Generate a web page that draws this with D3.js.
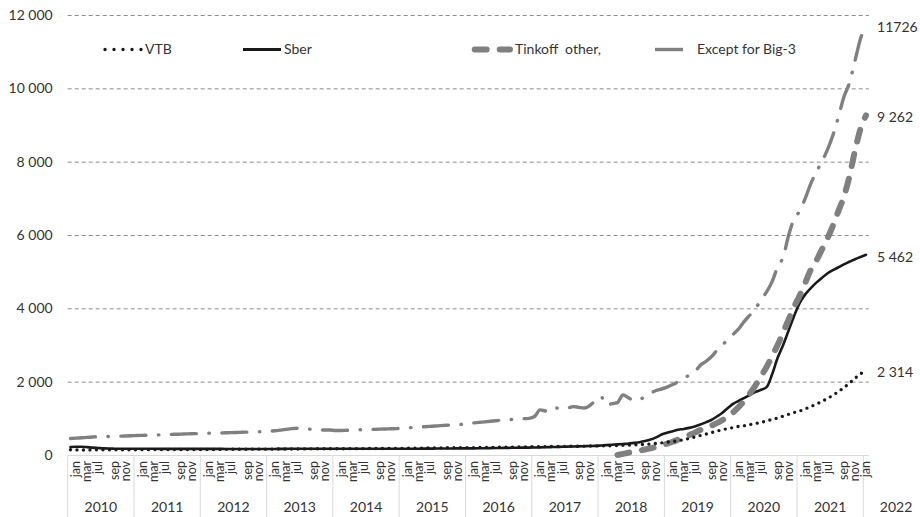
<!DOCTYPE html>
<html><head><meta charset="utf-8">
<script src="https://cdn.jsdelivr.net/npm/d3@7"></script>
<style>
body{margin:0;background:#fff;}
svg text{font-family:Lato,"Noto Sans",sans-serif;fill:#333;}
</style></head><body>
<svg id="c" width="920" height="517"></svg>
<script>
// ---- data ----
const years = [2010,2011,2012,2013,2014,2015,2016,2017,2018,2019,2020,2021,2022];
const monthNames = ["jan","feb","mar","apr","may","jun","jul","aug","sep","oct","nov","dec"];
const lastMonth = "2022-01";
const shownMonthLabels = ["jan","mar","jul","sep","nov"];
const yTicks = [0,2000,4000,6000,8000,10000,12000];
const seriesNames = ["VTB","Sber","Tinkoff  other,","Except for Big-3"];

const vtb = [
 145,140,138,138,140,140,142,142,143,143,145,145,
 145,146,146,147,147,148,148,149,149,150,150,150,
 150,151,152,153,154,155,156,157,158,159,160,160,
 160,161,162,163,164,165,166,167,168,169,170,170,
 170,171,172,173,174,175,176,177,178,179,180,180,
 180,182,184,186,188,190,192,194,196,198,200,200,
 200,202,204,206,208,210,212,214,216,218,220,222,
 224,226,228,230,232,234,236,238,240,242,245,248,
 250,250,255,260,265,270,275,280,290,300,315,330,
 350,370,390,420,450,490,530,570,610,650,690,720,
 750,780,800,830,860,890,930,970,1010,1060,1110,1160,
 1200,1260,1320,1390,1460,1540,1630,1730,1840,1960,2090,2210,
 2314];
const sber = [
 220,225,225,215,200,190,180,175,172,170,170,170,
 170,170,170,170,168,168,168,168,168,168,168,168,
 168,168,168,168,165,165,165,165,165,165,165,165,
 165,165,168,168,170,170,170,170,170,170,170,170,
 170,170,170,170,170,170,170,170,170,170,170,170,
 170,170,172,172,174,174,176,176,178,178,180,180,
 180,182,184,186,188,190,192,194,196,198,200,202,
 205,208,212,216,220,224,228,232,236,240,245,250,
 260,270,280,290,300,310,330,350,380,420,480,560,
 610,650,690,710,740,780,830,890,955,1050,1150,1280,
 1400,1480,1560,1640,1720,1780,1850,2200,2650,3000,3400,3800,
 4150,4380,4550,4700,4830,4950,5040,5120,5200,5270,5340,5400,
 5462];
const tinkoffStart = "2018-04";
const tinkoff = [
 0,30,60,90,120,150,185,220,270,
 310,360,420,480,545,610,680,740,800,870,950,1050,
 1170,1320,1480,1680,1900,2150,2400,2700,3000,3350,3700,4050,
 4350,4700,5050,5300,5600,5900,6250,6650,7050,7600,8300,8900,
 9262];
const exceptBig3 = [
 450,460,470,480,490,500,500,505,510,515,520,525,
 530,535,540,545,550,555,560,565,570,575,580,585,
 590,595,600,600,605,610,615,620,625,630,635,640,
 650,660,680,700,720,730,720,710,700,690,680,680,
 670,670,675,680,685,690,695,700,705,710,715,720,
 730,740,750,760,770,780,790,800,810,820,830,840,
 860,875,890,905,920,935,950,960,970,980,990,1000,
 1050,1230,1200,1180,1280,1260,1280,1320,1300,1280,1350,1480,
 1600,1360,1400,1430,1640,1560,1480,1520,1580,1680,1760,1800,
 1850,1920,2000,2080,2180,2260,2450,2550,2680,2850,3000,3150,
 3300,3450,3650,3820,4000,4230,4450,4730,5130,5400,6000,6450,
 6650,7000,7400,7720,8000,8320,8720,9220,9770,10150,10750,11350,
 11726];
const endLabels = ["2 314","5 462","9 262","11726"];

// ---- categories ----
const months = [];
for (const yr of years) for (const m of monthNames) {
  const key = yr + "-" + String(monthNames.indexOf(m)+1).padStart(2,"0");
  if (key > lastMonth) break;
  months.push({year: yr, month: m, key});
}
const n = months.length;
const idxOf = key => months.findIndex(d => d.key === key);

// ---- layout ----
const svg = d3.select("#c");
const X0 = 67.7, X1 = 868.8, YT = 15, YB = 455;
const x = d3.scaleBand().domain(d3.range(n)).range([X0, X1]).paddingInner(0).paddingOuter(0);
const cx = i => x(i) + x.bandwidth()/2;
const y = d3.scaleLinear().domain([0, 12000]).range([YB, YT]);
const fmt = d3.formatLocale({decimal:".", thousands:" ", grouping:[3], currency:["",""]}).format(",d");

// grid + y labels
const ga = svg.append("g").attr("transform", `translate(${X0},0)`)
  .call(d3.axisLeft(y).tickValues(yTicks).tickSize(-(X1 - X0)).tickPadding(15).tickFormat(fmt));
ga.select(".domain").remove();
ga.selectAll(".tick line")
  .attr("stroke", d => d === 0 ? "#d9d9d9" : "#8c8c8c")
  .attr("stroke-width", 1)
  .attr("stroke-dasharray", d => d === 0 ? null : "4,3");
ga.selectAll(".tick text").attr("font-size", 14).attr("fill", "#333")
  .style("font-family", "Lato, 'Noto Sans', sans-serif");

// year separators and labels
const yearStarts = years.map(yr => months.findIndex(d => d.year === yr));
svg.append("g").selectAll("line").data(yearStarts).join("line")
  .attr("x1", i => x(i)).attr("x2", i => x(i))
  .attr("y1", YB).attr("y2", 517)
  .attr("stroke", "#d9d9d9").attr("stroke-width", 1);
svg.append("g").selectAll("text").data(years).join("text")
  .attr("x", (yr, k) => {
    const s = yearStarts[k];
    const e = k + 1 < years.length ? yearStarts[k+1] : n;
    return e - s > 1 ? (x(s) + x(e - 1) + x.bandwidth())/2 : X1 + 11;
  })
  .attr("text-anchor", (yr, k) => k + 1 < years.length ? "middle" : "start")
  .attr("y", 507).attr("dy", "0.35em").attr("font-size", 14)
  .text(d => d);

// month labels (rotated)
const labelOffset = {jan:1, mar:3, jul:5, sep:8, nov:10};
const monthLabelIdx = [];
yearStarts.forEach((s, k) => {
  const e = k + 1 < years.length ? yearStarts[k+1] : n;
  shownMonthLabels.forEach(m => {
    const i = s + labelOffset[m];
    if (e - s === 1) { if (m === "jan") monthLabelIdx.push({i: s, t: m}); }
    else if (i < e) monthLabelIdx.push({i, t: m});
  });
});
svg.append("g").selectAll("text").data(monthLabelIdx).join("text")
  .attr("transform", d => `translate(${cx(d.i)},461) rotate(-90)`)
  .attr("text-anchor", "end").attr("dy", "0.35em").attr("font-size", 12.5)
  .text(d => d.t);

// series
const line = d3.line().defined(d => d.v != null).x(d => cx(d.i)).y(d => y(d.v)).curve(d3.curveMonotoneX);
const toPts = (arr, start) => arr.map((v, k) => ({i: start + k, v}));
const tStart = idxOf(tinkoffStart);
const series = [
  {pts: toPts(sber, 0), stroke: "#1a1a1a", w: 2.6, dash: null, cap: "round"},
  {pts: toPts(tinkoff, tStart), stroke: "#808080", w: 6, dash: "12,13", cap: "round"},
  {pts: toPts(vtb, 0), stroke: "#1a1a1a", w: 3.4, dash: "0,6.5", cap: "round"},
  {pts: toPts(exceptBig3, 0), stroke: "#808080", w: 3.4, dash: "25,12.5,0.5,12.5", cap: "round"}
];
svg.append("g").selectAll("path").data(series).join("path")
  .attr("d", s => line(s.pts)).attr("fill", "none")
  .attr("stroke", s => s.stroke).attr("stroke-width", s => s.w)
  .attr("stroke-dasharray", s => s.dash).attr("stroke-linecap", s => s.cap)
  .attr("stroke-linejoin", "round");

// end labels
const ends = [vtb, sber, tinkoff, exceptBig3].map(a => a[a.length - 1]);
svg.append("g").selectAll("text").data(ends).join("text")
  .attr("x", cx(n - 1) + 11).attr("y", v => y(v) + 2).attr("dy", "0.35em")
  .attr("font-size", 14).text((v, k) => endLabels[k]);

// legend
const LY = 49.5;
const lg = svg.append("g");
const legendItems = [
  {x1: 105, x2: 141.5, tx: 145, stroke: "#1a1a1a", w: 3.4, dash: "0,9", cap: "round"},
  {x1: 243, x2: 281, tx: 284, stroke: "#1a1a1a", w: 3, dash: null, cap: "butt"},
  {x1: 474.7, x2: 510, tx: 515, stroke: "#808080", w: 6, dash: "12,13", cap: "round"},
  {x1: 655, x2: 683, tx: 697, stroke: "#808080", w: 3.4, dash: null, cap: "butt"}
];
legendItems.forEach((it, k) => {
  lg.append("line").attr("x1", it.x1).attr("x2", it.x2).attr("y1", LY).attr("y2", LY)
    .attr("stroke", it.stroke).attr("stroke-width", it.w)
    .attr("stroke-dasharray", it.dash).attr("stroke-linecap", it.cap);
  lg.append("text").attr("x", it.tx).attr("y", LY).attr("dy", "0.35em")
    .attr("font-size", 14).attr("xml:space", "preserve").style("white-space", "pre")
    .text(seriesNames[k]);
});
</script>
</body></html>
